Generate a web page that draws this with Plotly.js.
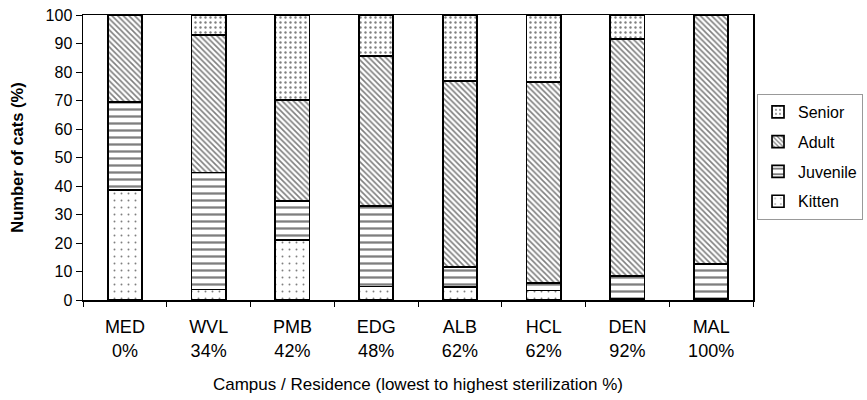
<!DOCTYPE html>
<html>
<head>
<meta charset="utf-8">
<script src="https://cdn.plot.ly/plotly-3.0.1.min.js"></script>
<style>
  html, body { margin: 0; padding: 0; background: #fff; }
  #chart { width: 867px; height: 400px; }
</style>
</head>
<body>
<div id="chart"></div>
<script>
// Campuses / residences, ordered from lowest to highest sterilization rate
const campuses = ["MED", "WVL", "PMB", "EDG", "ALB", "HCL", "DEN", "MAL"];
const sterilization = ["0%", "34%", "42%", "48%", "62%", "62%", "92%", "100%"];

// Age-class composition of the cat population (% of cats)
const kitten   = [38.5, 3.7, 21.0, 4.7, 4.5, 3.3, 0.5, 0.5];
const juvenile = [31.0, 41.0, 13.7, 28.3, 7.0, 2.6, 7.9, 12.1];
const adult    = [30.5, 48.3, 35.5, 52.6, 65.3, 70.5, 83.2, 87.4];
const senior   = [0.0, 7.0, 29.8, 14.4, 23.2, 23.6, 8.4, 0.0];

const yTicks = [0, 10, 20, 30, 40, 50, 60, 70, 80, 90, 100];

const xLabels = campuses.map((c, i) => c + "<br>" + sterilization[i]);

const FONT = "Liberation Sans, Arial, sans-serif";

function barTrace(name, values, shape, size, solidity, rank) {
  return {
    type: "bar",
    name: name,
    legendgroup: name,
    legendrank: rank,
    x: xLabels,
    y: values,
    marker: {
      color: "#ffffff",
      line: { color: "#000000", width: 1.7 },
      pattern: {
        shape: shape,
        fgcolor: "#000000",
        bgcolor: "#ffffff",
        size: size,
        solidity: solidity,
        fillmode: "overlay"
      }
    },
    hoverinfo: "name+y"
  };
}

// stacked bottom to top: Kitten, Juvenile, Adult, Senior (legend lists top layer first)
const traces = [
  barTrace("Kitten", kitten, ".", 7, 0.06, 4),
  barTrace("Juvenile", juvenile, "-", 7, 0.33, 3),
  barTrace("Adult", adult, "\\", 4, 0.4, 2),
  barTrace("Senior", senior, ".", 5, 0.18, 1)
];

const layout = {
  width: 867,
  height: 400,
  margin: { l: 83, r: 114, t: 15, b: 100, autoexpand: false },
  paper_bgcolor: "#ffffff",
  plot_bgcolor: "#ffffff",
  barmode: "stack",
  bargap: 0.59,
  font: { family: FONT, color: "#000000" },
  xaxis: {
    type: "category",
    tickson: "boundaries",
    ticks: "outside",
    ticklen: 5,
    tickcolor: "#000000",
    ticklabelstandoff: 10,
    tickfont: { size: 18, family: FONT },
    showline: true,
    linecolor: "#000000",
    linewidth: 1.5,
    mirror: true,
    showgrid: false,
    zeroline: false,
    title: {
      text: "Campus / Residence (lowest to highest sterilization %)",
      font: { size: 17, family: FONT },
      standoff: 18
    }
  },
  yaxis: {
    range: [0, 100],
    tickvals: yTicks,
    ticktext: yTicks.map(String),
    ticks: "outside",
    ticklen: 6,
    tickcolor: "#000000",
    tickfont: { size: 16, family: FONT },
    showline: true,
    linecolor: "#000000",
    linewidth: 1.5,
    mirror: true,
    showgrid: false,
    zeroline: false,
    title: {
      text: "<b>Number of cats (%)</b>",
      font: { size: 16.5, family: FONT },
      standoff: 18
    }
  },
  legend: {
    x: 1.006,
    y: 0.723,
    xanchor: "left",
    yanchor: "top",
    traceorder: "grouped",
    tracegroupgap: 6,
    bgcolor: "#ffffff",
    bordercolor: "#999999",
    borderwidth: 1,
    font: { size: 16, family: FONT }
  },
  showlegend: true
};

Plotly.newPlot("chart", traces, layout, { displayModeBar: false, staticPlot: true });
</script>
</body>
</html>
